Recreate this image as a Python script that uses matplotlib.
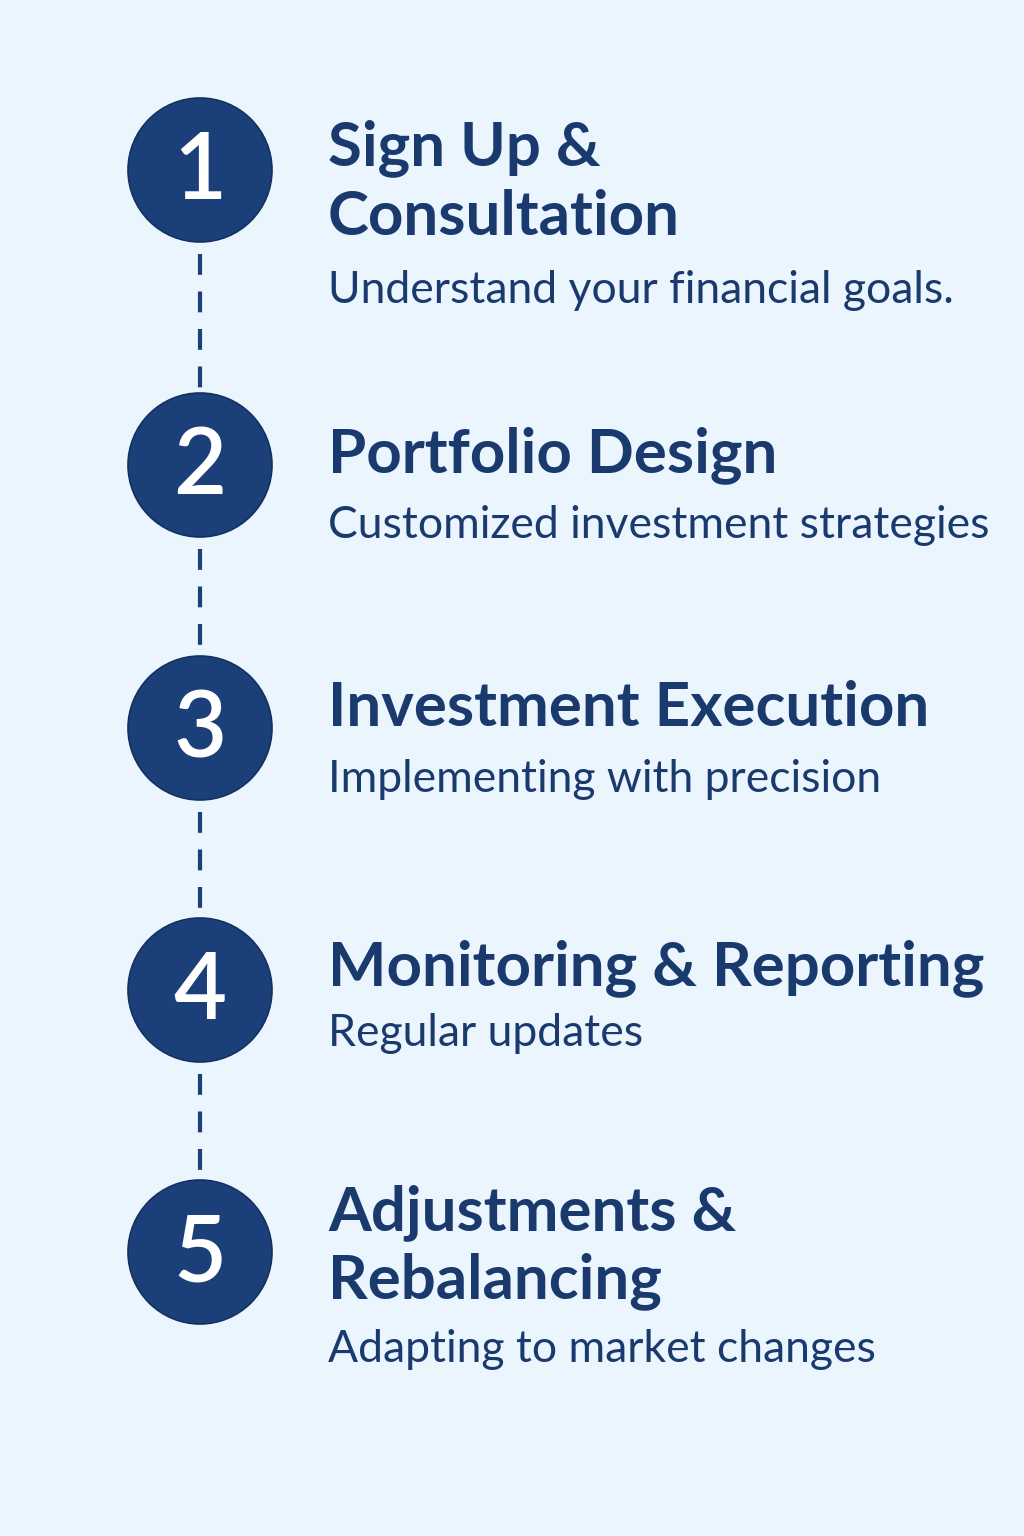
import matplotlib.pyplot as plt
from matplotlib.patches import Circle

# step content
step_numbers = ["1", "2", "3", "4", "5"]
step_titles = [
    ["Sign Up &", "Consultation"],
    ["Portfolio Design"],
    ["Investment Execution"],
    ["Monitoring & Reporting"],
    ["Adjustments &", "Rebalancing"],
]
step_descriptions = [
    "Understand your financial goals.",
    "Customized investment strategies",
    "Implementing with precision",
    "Regular updates",
    "Adapting to market changes",
]

# layout (pixel coords, y down)
circle_y = [170, 465, 728, 990, 1252]
title_baselines = [[165, 235], [472], [726], [985], [1230, 1298]]
desc_baselines = [303, 538, 792, 1046, 1362]
circle_x = 200
radius = 72
text_x = 328

bg = "#eaf5fe"
navy = "#1b3f78"
text_navy = "#1a3a6e"

fig = plt.figure(figsize=(10.24, 15.36), dpi=100, facecolor=bg)
ax = fig.add_axes([0, 0, 1, 1])
ax.set_xlim(0, 1024)
ax.set_ylim(1536, 0)
ax.set_facecolor(bg)
ax.axis("off")

# dashed connectors
for i in range(len(circle_y) - 1):
    ax.plot([circle_x, circle_x], [circle_y[i] + radius + 12, circle_y[i + 1] - radius - 4],
            color=navy, lw=3, linestyle=(0, (5.0, 4.0)), solid_capstyle="butt",
            zorder=1)

for i, num in enumerate(step_numbers):
    ax.add_patch(Circle((circle_x, circle_y[i]), radius, facecolor=navy,
                        edgecolor="#14305e", lw=1.2, zorder=2))
    ax.text(circle_x, circle_y[i] + 3, num, color="white", fontsize=66,
            family="Lato", fontweight="semibold", ha="center", va="center", zorder=3)
    for line, yb in zip(step_titles[i], title_baselines[i]):
        ax.text(text_x, yb, line, color=text_navy, fontsize=44.5, family="Lato",
                fontweight="bold", ha="left", va="baseline")
    ax.text(text_x, desc_baselines[i], step_descriptions[i], color=text_navy,
            fontsize=32, family="Lato", fontweight="normal", ha="left", va="baseline")

fig.savefig("out.png", dpi=100, facecolor=bg)
